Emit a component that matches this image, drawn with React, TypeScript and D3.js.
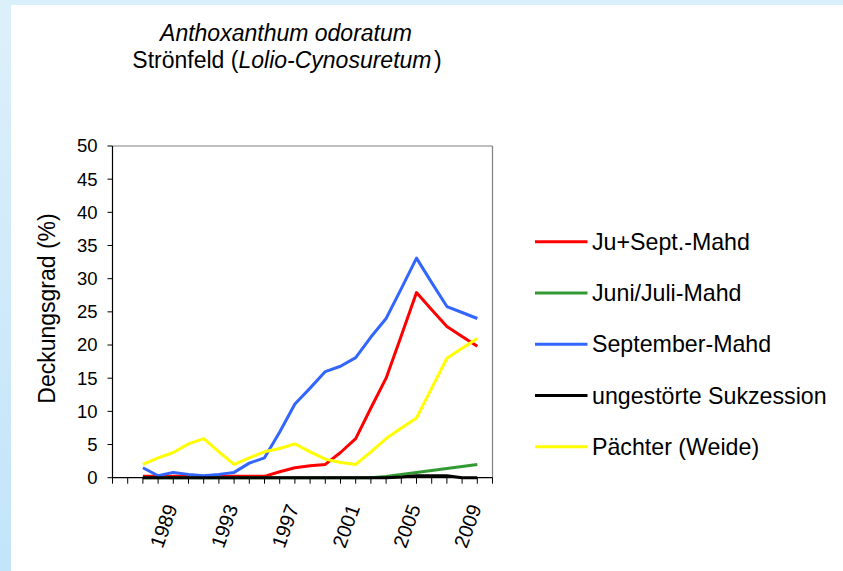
import React from "react";
import * as d3 from "d3";

const categories: number[] = d3.range(1985, 2011);
const dataYears: number[] = d3.range(1987, 2010);
const tickLabelYears: number[] = [1989, 1993, 1997, 2001, 2005, 2009];
const yTicks: number[] = [0, 5, 10, 15, 20, 25, 30, 35, 40, 45, 50];

const juSept: number[] = [0.2, 0.2, 0.2, 0.2, 0.2, 0.2, 0.2, 0.2, 0.2, 0.9, 1.5, 1.8, 2.0, 3.8, 5.9, 10.5, 15.0, 21.4, 27.9, 25.3, 22.8, 21.3, 19.8];
const juniJuli: number[] = [0, 0, 0, 0, 0, 0, 0, 0, 0, 0, 0, 0, 0, 0, 0, 0, 0.2, 0.5, 0.8, 1.1, 1.4, 1.7, 2.0];
const september: number[] = [1.5, 0.3, 0.8, 0.5, 0.3, 0.5, 0.8, 2.2, 3.0, 6.9, 11.1, 13.5, 16.0, 16.8, 18.1, 21.2, 24.0, 28.5, 33.1, 29.4, 25.8, 24.9, 24.0];
const sukzession: number[] = [0, 0, 0, 0, 0, 0, 0, 0, 0, 0, 0, 0, 0, 0, 0, 0, 0, 0.1, 0.3, 0.3, 0.3, 0, 0];
const paechter: number[] = [2.0, 3.0, 3.8, 5.1, 5.9, 3.9, 2.0, 3.0, 3.9, 4.4, 5.1, 3.9, 2.8, 2.3, 2.0, 3.9, 5.9, 7.5, 9.0, 13.5, 18.0, 19.5, 21.0];

const seriesNames: string[] = ["Ju+Sept.-Mahd", "Juni/Juli-Mahd", "September-Mahd", "ungestörte Sukzession", "Pächter (Weide)"];
const seriesValues: number[][] = [juSept, juniJuli, september, sukzession, paechter];
const seriesColors: string[] = ["#ff0000", "#339933", "#3366ff", "#000000", "#ffff00"];

const FONT = "'Liberation Sans', Arial, sans-serif";

export default function App() {
  const W = 843;
  const H = 571;
  const left = 112.5;
  const right = 492.5;
  const top = 146;
  const bottom = 477.7;

  const x = d3.scalePoint<number>().domain(categories).range([left, right]);
  const y = d3.scaleLinear().domain([0, 50]).range([bottom, top]);

  const line = d3
    .line<number>()
    .x((_, i) => x(dataYears[i]) as number)
    .y((d) => y(d));

  const legendY = d3.scaleLinear().domain([0, 4]).range([241.7, 446.7]);

  return (
    <svg
      width={W}
      height={H}
      style={{ position: "absolute", left: 0, top: 0, display: "block" }}
      fontFamily={FONT}
    >
      <defs>
        <linearGradient id="leftStrip" x1="0" y1="0" x2="0" y2="1">
          <stop offset="0" stopColor="#dcf0fa" />
          <stop offset="1" stopColor="#c3e4f9" />
        </linearGradient>
      </defs>
      <rect x={0} y={0} width={W} height={H} fill="#ffffff" />
      <rect x={0} y={0} width={W} height={5} fill="#d9eff9" />
      <rect x={0} y={0} width={11} height={H} fill="url(#leftStrip)" />

      {/* Title */}
      <text x={286} y={41} fontSize={23} fontStyle="italic" textAnchor="middle" fill="#000">
        Anthoxanthum odoratum
      </text>
      <text x={287} y={68} fontSize={23} textAnchor="middle" fill="#000">
        <tspan>Strönfeld (</tspan>
        <tspan fontStyle="italic">Lolio-Cynosuretum</tspan>
        <tspan dx={2.5}>)</tspan>
      </text>

      {/* Plot frame */}
      <line x1={left} y1={top} x2={right} y2={top} stroke="#808080" strokeWidth={1.2} />
      <line x1={right} y1={top} x2={right} y2={bottom} stroke="#808080" strokeWidth={1.2} />

      {/* Series */}
      {seriesValues.map((vals, si) => (
        <path
          key={seriesNames[si]}
          d={line(vals) || ""}
          fill="none"
          stroke={seriesColors[si]}
          strokeWidth={3}
          strokeLinejoin="round"
        />
      ))}

      {/* Y axis */}
      <line x1={left} y1={top} x2={left} y2={bottom} stroke="#000" strokeWidth={1.2} />
      {yTicks.map((t) => (
        <g key={t}>
          <line x1={left - 5} x2={left} y1={y(t)} y2={y(t)} stroke="#000" strokeWidth={1} />
          <text x={97.5} y={y(t)} dy="0.35em" fontSize={18.5} textAnchor="end" fill="#000">
            {t}
          </text>
        </g>
      ))}
      <text
        transform={`translate(55,308.5) rotate(-90)`}
        fontSize={23}
        textAnchor="middle"
        fill="#000"
      >
        Deckungsgrad (%)
      </text>

      {/* X axis */}
      <line x1={left} y1={bottom} x2={right} y2={bottom} stroke="#000" strokeWidth={1.2} />
      {categories.map((c) => (
        <line key={c} x1={x(c)} x2={x(c)} y1={bottom} y2={bottom + 6} stroke="#000" strokeWidth={1} />
      ))}
      {tickLabelYears.map((c) => (
        <text
          key={c}
          transform={`translate(${(x(c) as number) + 4.5},507.5) rotate(-70)`}
          fontSize={20}
          textAnchor="end"
          fill="#000"
        >
          {c}
        </text>
      ))}

      {/* Legend */}
      {seriesNames.map((n, i) => (
        <g key={n}>
          <line x1={535} x2={587.5} y1={legendY(i)} y2={legendY(i)} stroke={seriesColors[i]} strokeWidth={3} />
          <text x={592} y={legendY(i)} dy="0.35em" fontSize={23.2} fill="#000">
            {n}
          </text>
        </g>
      ))}
    </svg>
  );
}
